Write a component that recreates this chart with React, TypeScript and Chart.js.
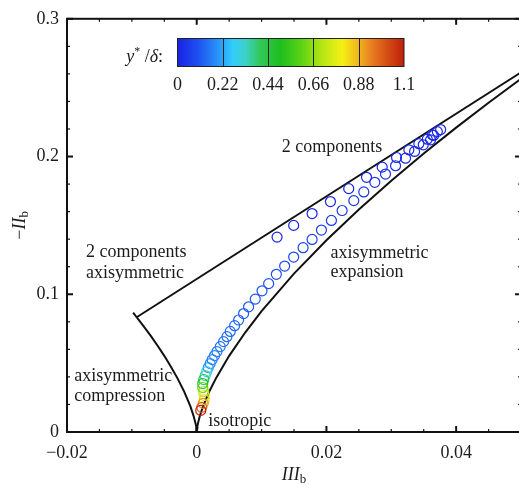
import React, { useEffect, useRef } from "react";
import { Chart, registerables } from "chart.js";
Chart.register(...registerables);

const FONT = '"Liberation Serif", "Times New Roman", serif';
const INK = "#1c1c1c";

// ---- measured anisotropy invariants (one circle each) ----
const pointIIIb = [
  0.01239, 0.01495, 0.01779, 0.02062, 0.02344, 0.02618, 0.0286, 0.03081, 0.03271, 0.03425, 0.03555, 0.03632, 0.0371, 0.03761,
  0.03653, 0.03606, 0.03493, 0.03359, 0.0322, 0.03066, 0.02911, 0.02746, 0.02576, 0.02422, 0.02242, 0.02077, 0.01923, 0.01779,
  0.0164, 0.01495, 0.01356, 0.01228, 0.01109, 0.01007, 0.00903, 0.008, 0.00723, 0.00646, 0.00584, 0.00517, 0.00466, 0.00414,
  0.00363, 0.00312, 0.00275, 0.00239, 0.00208, 0.00178, 0.00154, 0.00131, 0.00108, 0.00093, 0.00093, 0.00108, 0.00116, 0.00116,
  0.001, 0.00077, 0.00062,
];
const pointNegIIb = [
  0.1415, 0.15, 0.1586, 0.1673, 0.1767, 0.1849, 0.1923, 0.1993, 0.2049, 0.2093, 0.2126, 0.2158, 0.2181, 0.2196,
  0.2153, 0.2121, 0.2085, 0.2037, 0.1988, 0.1933, 0.1873, 0.1813, 0.1743, 0.168, 0.1608, 0.1536, 0.1466, 0.1398,
  0.1338, 0.127, 0.1205, 0.1145, 0.1077, 0.1025, 0.0965, 0.0909, 0.086, 0.0813, 0.0772, 0.073, 0.0692, 0.0656,
  0.062, 0.0584, 0.0555, 0.0526, 0.0497, 0.0468, 0.0439, 0.041, 0.0381, 0.0352, 0.0323, 0.0294, 0.0265, 0.0236,
  0.0208, 0.0179, 0.0157,
];
const pointYDelta = [
  0.002, 0.003, 0.004, 0.005, 0.006, 0.007, 0.008, 0.009, 0.01, 0.011, 0.012, 0.013, 0.014, 0.015,
  0.016, 0.018, 0.02, 0.022, 0.025, 0.028, 0.031, 0.035, 0.039, 0.043, 0.048, 0.053, 0.058, 0.064,
  0.07, 0.076, 0.082, 0.088, 0.094, 0.1, 0.106, 0.112, 0.118, 0.124, 0.13, 0.136, 0.142, 0.148,
  0.154, 0.16, 0.166, 0.172, 0.18, 0.2, 0.27, 0.34, 0.42, 0.5, 0.6, 0.68, 0.76, 0.84,
  0.92, 1.0, 1.1,
];

// ---- Lumley triangle boundaries ----
const twoCompIIIb = [-0.009259, 0.074074];
const twoCompNegIIb = [0.083333, 0.333333];
const expansionIIIb = [0, 0.00002, 0.00005, 0.0001, 0.0002, 0.0005, 0.001, 0.002, 0.003, 0.005, 0.0075, 0.01, 0.015, 0.02, 0.025, 0.03, 0.035, 0.04, 0.045, 0.05, 0.055];
const expansionNegIIb = [0, 0.00139, 0.00257, 0.00407, 0.00646, 0.01191, 0.0189, 0.03, 0.0393, 0.0553, 0.0724, 0.0877, 0.115, 0.1392, 0.1616, 0.1825, 0.2022, 0.221, 0.2391, 0.2565, 0.2734];
const compressionIIIb = [0, -0.00002, -0.00005, -0.0001, -0.0002, -0.0005, -0.001, -0.002, -0.003, -0.004, -0.005, -0.006, -0.007, -0.008, -0.009, -0.009259, -0.0098];
const compressionNegIIb = [0, 0.00139, 0.00257, 0.00407, 0.00646, 0.01191, 0.0189, 0.03, 0.0393, 0.0476, 0.0553, 0.0624, 0.0692, 0.0756, 0.0817, 0.08333, 0.0866];

// ---- ticks ----
const xTicks = [-0.02, 0, 0.02, 0.04];
const xTickLabels = ["\u22120.02", "0", "0.02", "0.04"];
const yTicks = [0, 0.1, 0.2, 0.3];
const yTickLabels = ["0", "0.1", "0.2", "0.3"];
const colorbarTicks = [0, 0.22, 0.44, 0.66, 0.88, 1.1];
const colorbarLabels = ["0", "0.22", "0.44", "0.66", "0.88", "1.1"];

// ---- region labels ----
const regionTexts = ["2 components", "2 components", "axisymmetric", "axisymmetric", "expansion", "axisymmetric", "compression", "isotropic"];
const regionIIIb = [0.0131, -0.01707, -0.01707, 0.02062, 0.02062, -0.01887, -0.01887, 0.00178];
const regionNegIIb = [0.203, 0.127, 0.1121, 0.1263, 0.1126, 0.0369, 0.0224, 0.0045];

// colormap (style)
const cmapStops: [number, number[]][] = [
  [0, [25, 35, 228]],
  [0.1, [30, 80, 240]],
  [0.2, [40, 150, 250]],
  [0.27, [50, 205, 250]],
  [0.33, [60, 210, 200]],
  [0.4, [50, 200, 90]],
  [0.5, [30, 190, 30]],
  [0.6, [90, 210, 20]],
  [0.7, [180, 230, 20]],
  [0.8, [245, 240, 20]],
  [0.88, [240, 180, 30]],
  [0.95, [230, 120, 30]],
  [1.1, [190, 30, 10]],
];
function cmap(v: number): string {
  if (v <= cmapStops[0][0]) return `rgb(${cmapStops[0][1].join(",")})`;
  for (let i = 1; i < cmapStops.length; i++) {
    const [b, cb] = cmapStops[i];
    const [a, ca] = cmapStops[i - 1];
    if (v <= b) {
      const t = (v - a) / (b - a);
      const c = ca.map((q, k) => Math.round(q + (cb[k] - q) * t));
      return `rgb(${c.join(",")})`;
    }
  }
  return `rgb(${cmapStops[cmapStops.length - 1][1].join(",")})`;
}

type Part = { t: string; font: string; dy?: number };
function drawRich(ctx: CanvasRenderingContext2D, parts: Part[], x: number, y: number, align: "left" | "center" | "right") {
  ctx.textAlign = "left";
  ctx.textBaseline = "alphabetic";
  let total = 0;
  const ws = parts.map((p) => {
    ctx.font = p.font;
    const w = ctx.measureText(p.t).width;
    total += w;
    return w;
  });
  let cx = align === "center" ? x - total / 2 : align === "right" ? x - total : x;
  parts.forEach((p, i) => {
    ctx.font = p.font;
    ctx.fillText(p.t, cx, y + (p.dy || 0));
    cx += ws[i];
  });
}

const decorPlugin = {
  id: "decor",
  afterDatasetsDraw(chart: any) {
    const { ctx, chartArea: a, scales } = chart;
    const xs = scales.x;
    const ys = scales.y;
    ctx.save();
    // region labels
    ctx.fillStyle = INK;
    ctx.font = `18px ${FONT}`;
    ctx.textAlign = "left";
    ctx.textBaseline = "alphabetic";
    regionTexts.forEach((t, i) => {
      ctx.fillText(t, xs.getPixelForValue(regionIIIb[i]), ys.getPixelForValue(regionNegIIb[i]));
    });
    // frame
    ctx.strokeStyle = "#111";
    ctx.lineWidth = 2;
    ctx.strokeRect(a.left, a.top, a.right - a.left, a.bottom - a.top);
    // ticks
    const tick = (x1: number, y1: number, x2: number, y2: number, w: number) => {
      ctx.lineWidth = w;
      ctx.beginPath();
      ctx.moveTo(x1, y1);
      ctx.lineTo(x2, y2);
      ctx.stroke();
    };
    for (let i = -4; i <= 10; i++) {
      const v = i * 0.005;
      const major = i % 4 === 0;
      const len = major ? 6 : 3;
      const px = xs.getPixelForValue(v);
      tick(px, a.bottom, px, a.bottom - len, major ? 2 : 1.2);
      tick(px, a.top, px, a.top + len, major ? 2 : 1.2);
    }
    for (let i = 0; i <= 15; i++) {
      const v = i * 0.02;
      const major = i % 5 === 0;
      const len = major ? 6 : 3;
      const py = ys.getPixelForValue(v);
      tick(a.left, py, a.left + len, py, major ? 2 : 1.2);
      tick(a.right, py, a.right - len, py, major ? 2 : 1.2);
    }
    ctx.restore();
  },
  afterDraw(chart: any) {
    const { ctx, chartArea: a } = chart;
    ctx.save();
    ctx.fillStyle = INK;
    // axis titles
    const cxm = (a.left + a.right) / 2;
    drawRich(
      ctx,
      [
        { t: "III", font: `italic 18px ${FONT}` },
        { t: "b", font: `13px ${FONT}`, dy: 3 },
      ],
      cxm,
      480,
      "center"
    );
    ctx.save();
    ctx.translate(25, (a.top + a.bottom) / 2);
    ctx.rotate(-Math.PI / 2);
    drawRich(
      ctx,
      [
        { t: "\u2212", font: `18px ${FONT}` },
        { t: "II", font: `italic 18px ${FONT}` },
        { t: "b", font: `13px ${FONT}`, dy: 3 },
      ],
      0,
      0,
      "center"
    );
    ctx.restore();
    // colorbar
    const cbL = 177.5, cbW = 226.5, cbT = 38.5, cbH = 28;
    const vmax = colorbarTicks[colorbarTicks.length - 1];
    const g = ctx.createLinearGradient(cbL, 0, cbL + cbW, 0);
    cmapStops.forEach(([v, c]) => g.addColorStop(v / vmax, `rgb(${c.join(",")})`));
    ctx.fillStyle = g;
    ctx.fillRect(cbL, cbT, cbW, cbH);
    ctx.strokeStyle = "#222";
    ctx.lineWidth = 1;
    ctx.strokeRect(cbL, cbT, cbW, cbH);
    colorbarTicks.forEach((v, i) => {
      const px = cbL + (v / vmax) * cbW;
      if (i > 0 && i < colorbarTicks.length - 1) {
        ctx.beginPath();
        ctx.moveTo(Math.round(px) + 0.5, cbT);
        ctx.lineTo(Math.round(px) + 0.5, cbT + cbH);
        ctx.stroke();
      }
      ctx.fillStyle = INK;
      ctx.font = `18px ${FONT}`;
      ctx.textAlign = "center";
      ctx.textBaseline = "alphabetic";
      ctx.fillText(colorbarLabels[i], px, 90);
    });
    ctx.fillStyle = INK;
    drawRich(
      ctx,
      [
        { t: "y", font: `italic 18px ${FONT}` },
        { t: "*", font: `12px ${FONT}`, dy: -7 },
        { t: " /", font: `18px ${FONT}` },
        { t: "\u03b4", font: `italic 18px ${FONT}` },
        { t: ":", font: `18px ${FONT}` },
      ],
      163,
      62,
      "right"
    );
    ctx.restore();
  },
};

export default function App() {
  const ref = useRef<HTMLCanvasElement>(null);
  useEffect(() => {
    const toXY = (xs: number[], ys: number[]) => xs.map((x, i) => ({ x, y: ys[i] }));
    const lineStyle = {
      showLine: true,
      borderColor: "#111",
      borderWidth: 2,
      pointRadius: 0,
      fill: false,
      tension: 0,
    };
    const chart = new Chart(ref.current!, {
      type: "scatter",
      data: {
        datasets: [
          {
            data: toXY(pointIIIb, pointNegIIb),
            pointRadius: 5,
            pointBorderWidth: 1.2,
            pointBackgroundColor: "rgba(0,0,0,0)",
            pointBorderColor: pointYDelta.map(cmap),
            showLine: false,
          } as any,
          { data: toXY(twoCompIIIb, twoCompNegIIb), ...lineStyle },
          { data: toXY(expansionIIIb, expansionNegIIb), ...lineStyle },
          { data: toXY(compressionIIIb, compressionNegIIb), ...lineStyle },
        ],
      },
      options: {
        animation: false,
        responsive: false,
        devicePixelRatio: 1,
        layout: { autoPadding: false, padding: { top: 18, right: 1, left: 0, bottom: 0 } },
        plugins: { legend: { display: false }, tooltip: { enabled: false } },
        scales: {
          x: {
            type: "linear",
            min: -0.02,
            max: 0.05,
            grid: { display: false, drawTicks: false },
            border: { display: false },
            ticks: {
              font: { family: FONT, size: 18 },
              color: INK,
              padding: 10,
              maxRotation: 0,
              autoSkip: false,
              callback: (_v: any, i: number) => xTickLabels[i],
            },
            afterBuildTicks: (s: any) => {
              s.ticks = xTicks.map((v) => ({ value: v }));
            },
            afterFit: (s: any) => {
              s.height = 57;
            },
          },
          y: {
            type: "linear",
            min: 0,
            max: 0.3,
            grid: { display: false, drawTicks: false },
            border: { display: false },
            ticks: {
              font: { family: FONT, size: 18 },
              color: INK,
              padding: 8,
              autoSkip: false,
              callback: (_v: any, i: number) => yTickLabels[i],
            },
            afterBuildTicks: (s: any) => {
              s.ticks = yTicks.map((v) => ({ value: v }));
            },
            afterFit: (s: any) => {
              s.width = 67;
            },
          },
        },
      } as any,
      plugins: [decorPlugin],
    });
    return () => chart.destroy();
  }, []);
  return (
    <div style={{ position: "absolute", left: 0, top: 0, width: 519, height: 489, overflow: "hidden", background: "#fff" }}>
      <canvas ref={ref} width={522} height={489} style={{ display: "block", width: 522, height: 489 }} />
    </div>
  );
}
